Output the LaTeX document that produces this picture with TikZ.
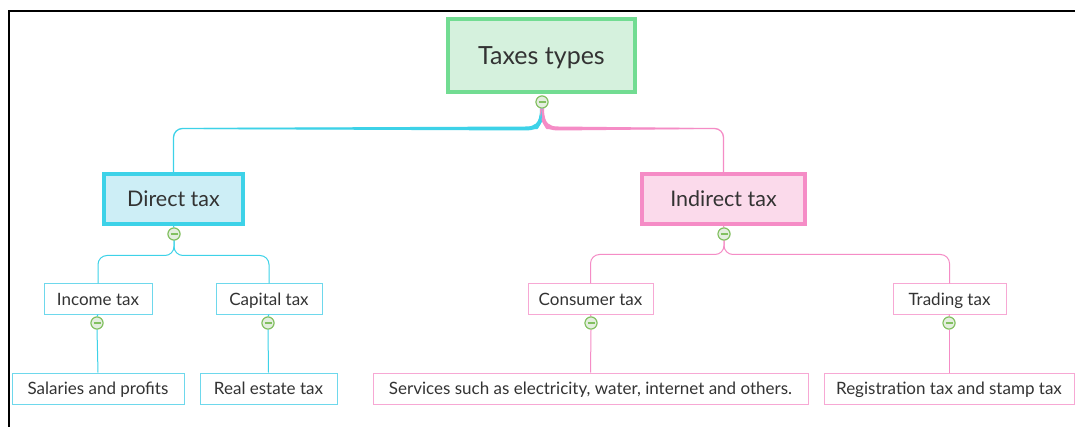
\documentclass[tikz,border=0pt]{standalone}
\usepackage{fontspec}
\setmainfont{Lato}
\usetikzlibrary{calc}
\definecolor{ink}{HTML}{333333}
\definecolor{rootfill}{HTML}{D5F1DD}
\definecolor{rootline}{HTML}{72DC92}
\definecolor{cyanfill}{HTML}{CDEEF6}
\definecolor{cyanline}{HTML}{3DD2E8}
\definecolor{cyanthin}{HTML}{6ED8EC}
\definecolor{pinkfill}{HTML}{FBDAEB}
\definecolor{pinkline}{HTML}{F58CC6}
\definecolor{pinkthin}{HTML}{F7A8D4}
\definecolor{togglefill}{HTML}{E4EEDF}
\definecolor{toggleline}{HTML}{82C060}
\begin{document}
\begin{tikzpicture}[x=1pt,y=-1pt,
  box/.style={draw, rectangle, inner sep=0pt, text=ink, align=center, text depth=0pt},
  rootbox/.style={box, fill=rootfill, draw=rootline, line width=4pt, text height=18pt,
    minimum width=187pt, minimum height=73pt, font=\fontsize{25}{30}\selectfont},
  midbox/.style={box, line width=4pt, minimum height=50pt, text height=15.5pt,
    font=\fontsize{21.5}{25}\selectfont},
  leafbox/.style={box, fill=white, line width=1pt, minimum height=30pt, text height=12.2pt,
    font=\fontsize{17}{20}\selectfont},
  cyanleaf/.style={leafbox, draw=cyanthin},
  pinkleaf/.style={leafbox, draw=pinkthin},
  cyanlink/.style={draw=cyanline, line width=1.3pt, rounded corners=9pt},
  pinklink/.style={draw=pinkline, line width=1.3pt, rounded corners=9pt},
  toggle/.style={circle, draw=toggleline, fill=togglefill, line width=1pt,
    minimum size=12pt, inner sep=0pt,
    path picture={\draw[toggleline, line width=1.3pt]
      ($(path picture bounding box.center)+(-3.5pt,0pt)$) --
      ($(path picture bounding box.center)+(3.5pt,0pt)$);}}
]
\useasboundingbox (0,0) rectangle (1075,427);
\fill[white] (0,0) rectangle (1075,427);

% frame
\draw[line width=2pt] (1075,11) -- (9,11) -- (9,427);

% nodes
\node[rootbox] (root) at (541.5,55.5) {Taxes types};
\node[midbox, fill=cyanfill, draw=cyanline, minimum width=139pt] (direct) at (173.5,199) {Direct tax};
\node[midbox, fill=pinkfill, draw=pinkline, minimum width=163pt] (indirect) at (723.5,199) {Indirect tax};

\node[cyanleaf, minimum width=108pt] (income) at (98,299) {Income tax};
\node[cyanleaf, minimum width=106pt] (capital) at (269,299) {Capital tax};
\node[pinkleaf, minimum width=125pt] (consumer) at (590.5,299) {Consumer tax};
\node[pinkleaf, minimum width=113pt] (trading) at (949.5,299) {Trading tax};

\node[cyanleaf, minimum width=172pt, minimum height=31pt] (salaries) at (98,388.5) {Salaries and profits};
\node[cyanleaf, minimum width=137pt, minimum height=31pt] (realestate) at (268.5,388.5) {Real estate tax};
\node[pinkleaf, minimum width=435pt, minimum height=31pt] (services) at (590.5,388.5) {Services such as electricity, water, internet and others.};
\node[pinkleaf, minimum width=250pt, minimum height=31pt] (registration) at (949,388.5) {Registration tax and stamp tax};

% collapse toggles
\node[toggle] (t0) at (542,102) {};
\node[toggle] (t1) at (174,234) {};
\node[toggle] (t2) at (724,234) {};
\node[toggle] (t3) at (97,323) {};
\node[toggle] (t4) at (268,323) {};
\node[toggle] (t5) at (591,323) {};
\node[toggle] (t6) at (949,323) {};

% main branches, tapering away from the root
\fill[cyanline] ($(t0.south)+(-2,0)$) .. controls +(0,16) and +(8,0) .. ($(t0.south)+(-16,18)$)
  -- ($(direct.north |- t0.south)+(30,19.4)$) -- ($(direct.north |- t0.south)+(30,20.6)$)
  -- ($(t0.south)+(-16,22)$) .. controls +(14,0) and +(0,14) .. ($(t0.south)+(2,0)$) -- cycle;
\fill[pinkline] ($(t0.south)+(2,0)$) .. controls +(0,16) and +(-8,0) .. ($(t0.south)+(16,18)$)
  -- ($(indirect.north |- t0.south)+(-30,19.4)$) -- ($(indirect.north |- t0.south)+(-30,20.6)$)
  -- ($(t0.south)+(16,22)$) .. controls +(-14,0) and +(0,14) .. ($(t0.south)+(-2,0)$) -- cycle;
\draw[cyanlink] (t0.south) .. controls +(0,12) and +(10,0) .. ++(-14,20) -| (direct.north);
\draw[pinklink] (t0.south) .. controls +(0,12) and +(-10,0) .. ++(14,20) -| (indirect.north);

% second level
\draw[cyanlink, line width=1pt] (direct.south) -- (t1.north);
\draw[cyanlink, line width=1pt] (t1.south) -- ++(0,15) -| (income.north);
\draw[cyanlink, line width=1pt] (t1.south) -- ++(0,15) -| (capital.north);
\draw[pinklink, line width=1pt] (indirect.south) -- (t2.north);
\draw[pinklink, line width=1pt] (t2.south) -- ++(0,14) -| (consumer.north);
\draw[pinklink, line width=1pt] (t2.south) -- ++(0,14) -| (trading.north);

% third level
\draw[cyanlink, line width=1pt] (income.south) -- (t3.north);
\draw[cyanlink, line width=1pt] (t3.south) -- (salaries.north);
\draw[cyanlink, line width=1pt] (capital.south) -- (t4.north);
\draw[cyanlink, line width=1pt] (t4.south) -- (realestate.north);
\draw[pinklink, line width=1pt] (consumer.south) -- (t5.north);
\draw[pinklink, line width=1pt] (t5.south) -- (services.north);
\draw[pinklink, line width=1pt] (trading.south) -- (t6.north);
\draw[pinklink, line width=1pt] (t6.south) -- (registration.north);

% redraw toggles above the links
\foreach \t in {t0,t1,t2,t3,t4,t5,t6}
  \node[toggle] at (\t) {};
\end{tikzpicture}
\end{document}
